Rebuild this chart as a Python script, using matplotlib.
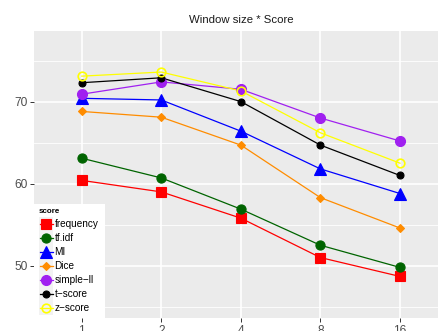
import matplotlib
matplotlib.use("Agg")
import matplotlib.pyplot as plt
from matplotlib.patches import Rectangle

plt.rcParams['font.family'] = ['Liberation Sans', 'DejaVu Sans']

window_sizes = ["1", "2", "4", "8", "16"]
series_names = ["frequency", "tf.idf", "MI", "Dice", "simple\u2212ll", "t\u2212score", "z\u2212score"]
frequency = [60.4, 59.0, 55.8, 51.0, 48.7]
tf_idf = [63.1, 60.7, 56.9, 52.5, 49.8]
mi = [70.4, 70.2, 66.4, 61.8, 58.8]
dice = [68.8, 68.1, 64.7, 58.3, 54.6]
simple_ll = [70.9, 72.4, 71.5, 68.0, 65.2]
t_score = [72.3, 72.9, 70.0, 64.7, 61.0]
z_score = [73.1, 73.6, 71.3, 66.2, 62.5]

values = [frequency, tf_idf, mi, dice, simple_ll, t_score, z_score]
colors = ["#FF0000", "#006400", "#0000FF", "#FF8C00", "#A020F0", "#000000", "#FFFF00"]
markers = ["s", "o", "^", "D", "o", "o", "o"]
msizes = [7.2, 6.6, 8.0, 4.0, 7.2, 5.0, 6.2]
filled = [True, True, True, True, True, True, False]

W, H = 438, 331
fig = plt.figure(figsize=(W / 100, H / 100), dpi=100)

# panel in pixel coordinates (extends a little past the right edge)
px_l, px_r, px_t, px_b = 34, 447.7, 31, 318.3
ax = fig.add_axes([px_l / W, 1 - px_b / H, (px_r - px_l) / W, (px_b - px_t) / H])
ax.set_facecolor("#EBEBEB")
for s in ax.spines.values():
    s.set_visible(False)

x = list(range(1, len(window_sizes) + 1))
ax.set_xlim(0.4, 5.6)
ax.set_ylim(43.6, 78.6)

for yv in [45, 55, 65, 75]:
    ax.axhline(yv, color="white", lw=0.6, zorder=0)
for yv in [50, 60, 70]:
    ax.axhline(yv, color="white", lw=1.2, zorder=0)
for xv in x:
    ax.axvline(xv, color="white", lw=1.2, zorder=0)


def draw_marker(target, xs, ys, c, m, ms, f):
    target.plot(xs, ys, linestyle="none", marker=m, markersize=ms,
                markerfacecolor=c if f else "none", markeredgecolor=c,
                markeredgewidth=0.8 if f else 1.2, zorder=3)


for vals, c, m, ms, f in zip(values, colors, markers, msizes, filled):
    ax.plot(x, vals, color=c, lw=0.9, zorder=2)
    draw_marker(ax, x, vals, c, m, ms, f)

ax.set_xticks(x)
ax.set_xticklabels(window_sizes)
ax.set_yticks([50, 60, 70])
ax.tick_params(axis="both", colors="#333333", length=2.8, width=0.7,
               labelsize=8.6, labelcolor="#4D4D4D", pad=2)
ax.set_title("Window size * Score", fontsize=8.2, color="#1A1A1A", pad=6)

# legend drawn inside the panel, bottom-left
lg_l, lg_r, lg_t, lg_b = 34, 105, 204, 318.3
lax = fig.add_axes([lg_l / W, 1 - lg_b / H, (lg_r - lg_l) / W, (lg_b - lg_t) / H])
lax.set_xlim(lg_l, lg_r)
lax.set_ylim(lg_b, lg_t)
lax.axis("off")
lax.add_patch(Rectangle((lg_l, lg_t), lg_r - lg_l, lg_b - lg_t, facecolor="white",
                        edgecolor="none", zorder=0))
lax.text(39, 211.5, "score", fontsize=5.8, fontweight="bold", va="center", ha="left",
         color="#000000")
for i, (name, c, m, ms, f) in enumerate(zip(series_names, colors, markers, msizes, filled)):
    yc = 224.3 + 14 * i
    lax.add_patch(Rectangle((39, yc - 7), 14, 14, facecolor="#F2F2F2", edgecolor="none", zorder=1))
    lax.plot([39.5, 52.5], [yc, yc], color=c, lw=0.9, zorder=2)
    draw_marker(lax, [46], [yc], c, m, ms, f)
    lax.text(54.5, yc, name, fontsize=7.2, va="center", ha="left", color="#000000")

fig.savefig("out.png", dpi=100)
